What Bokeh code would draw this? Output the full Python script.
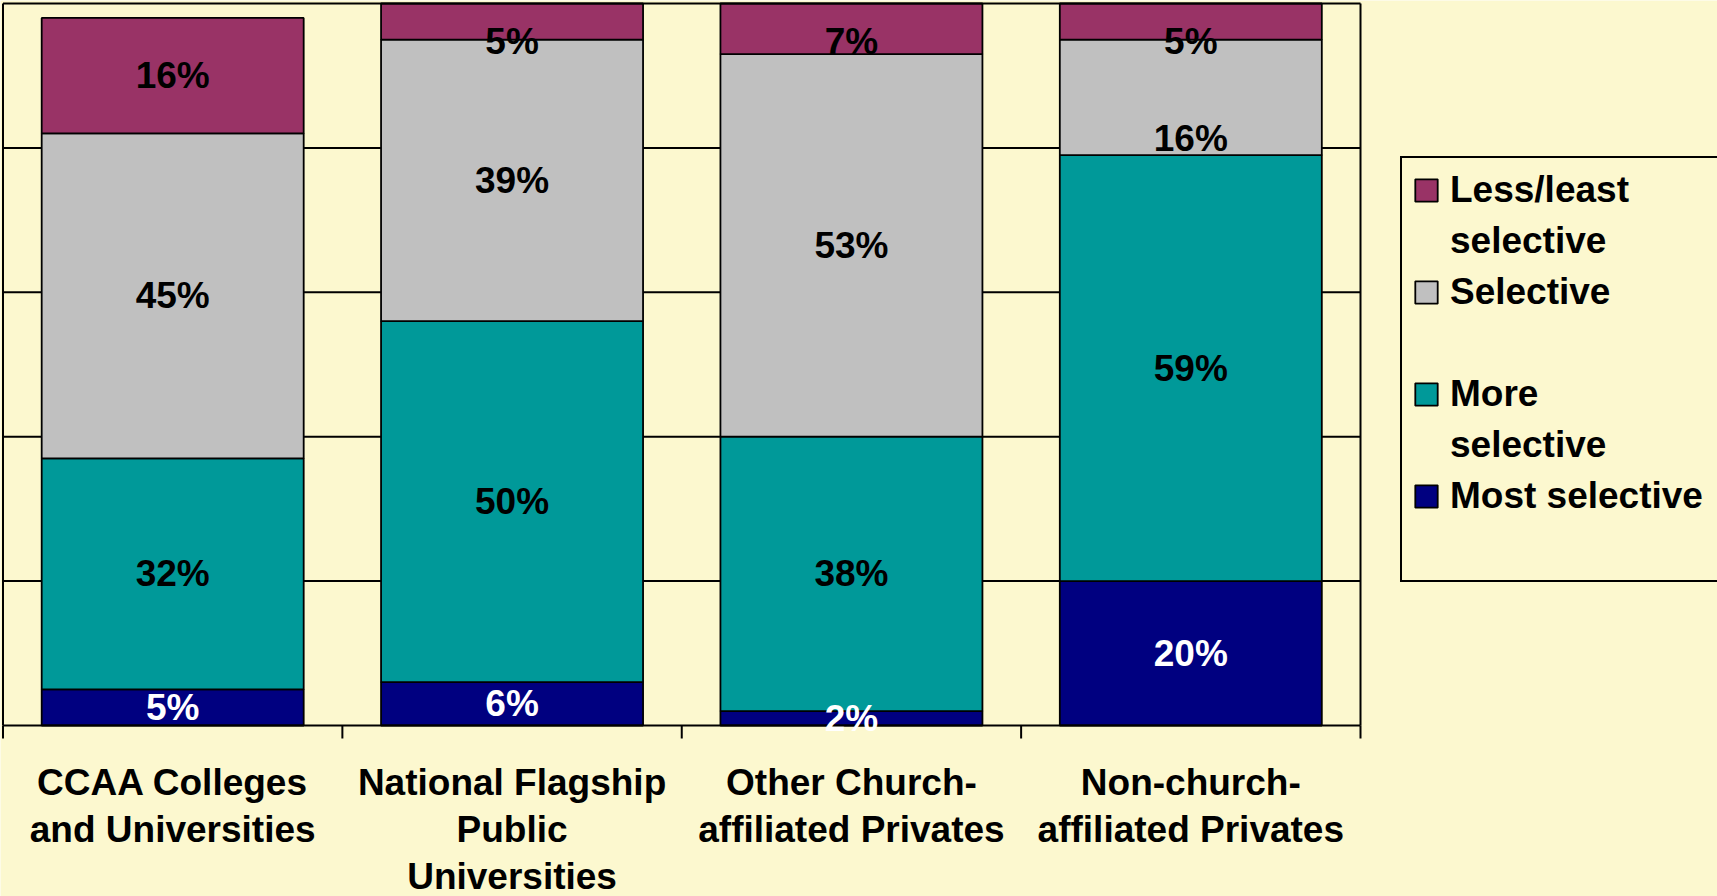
import numpy as np
from bokeh.plotting import figure
from bokeh.models import ColumnDataSource, Range1d, Legend, LegendItem
from bokeh.core.properties import value
from bokeh.embed import file_html
from bokeh.resources import INLINE

# ---------------- data ----------------
categories = ["CCAA Colleges and Universities",
              "National Flagship Public Universities",
              "Other Church-affiliated Privates",
              "Non-church-affiliated Privates"]
category_labels = ["CCAA Colleges\nand Universities",
                   "National Flagship\nPublic\nUniversities",
                   "Other Church-\naffiliated Privates",
                   "Non-church-\naffiliated Privates"]
series_names = ["Most selective", "More selective", "Selective", "Less/least selective"]
most_selective = [5, 6, 2, 20]
more_selective = [32, 50, 38, 59]
selective = [45, 39, 53, 16]
less_least_selective = [16, 5, 7, 5]
series_colors = ["#000080", "#009999", "#C0C0C0", "#993366"]
label_colors = ["white", "black", "black", "black"]
legend_lines = [["Most selective"], ["More", "selective"], ["Selective", " "], ["Less/least", "selective"]]
legend_order = [3, 2, 1, 0]
y_ticks = [0, 20, 40, 60, 80, 100]

# ---------------- layout / styling ----------------
BG = "#FCF8CF"
FONT = "Liberation Sans"
FS = "37px"
W, H = 1717, 896
PX_X0, PX_X1 = 2.5, 1360      # screen x of category axis start / end
PX_Y100, PX_Y0 = 3, 725       # screen y of 100% / 0%
TICK_PX = 13                  # category separator tick length
CAT_FIRST_PX, CAT_PITCH_PX = 57, 47   # category label lines below axis
TOP_PAD = 5.3                 # value-label clamp below top (data units)
MIN_GAP = 13.4                # min distance between labels of one bar
LW = 2

values = [most_selective, more_selective, selective, less_least_selective]
n = len(categories)
xs = [i + 0.5 for i in range(n)]
sx = (PX_X1 - PX_X0) / n
sy = (PX_Y0 - PX_Y100) / (y_ticks[-1] - y_ticks[0])

p = figure(width=W, height=H, output_backend="svg", toolbar_location=None,
           x_range=Range1d(-PX_X0 / sx, (W - PX_X0) / sx),
           y_range=Range1d(-(H - PX_Y0) / sy, y_ticks[-1] + PX_Y100 / sy),
           x_axis_location=None, y_axis_location=None, min_border=0)
p.background_fill_color = BG
p.border_fill_color = BG
p.outline_line_color = None
p.grid.visible = False

# gridlines (value axis, no labels)
grid_y = y_ticks[1:-1]
p.segment(x0=[0] * len(grid_y), x1=[n] * len(grid_y), y0=grid_y, y1=grid_y,
          line_color="black", line_width=LW)

# ---------------- stacked bars ----------------
bottom = np.zeros(n)
renderers = []
for vals, color in zip(values, series_colors):
    top = bottom + np.array(vals, dtype=float)
    src = ColumnDataSource(dict(x=xs, bottom=bottom, top=top))
    r = p.vbar(x="x", bottom="bottom", top="top", width=0.772, source=src,
               fill_color=color, line_color="black", line_width=1.8)
    renderers.append(r)
    bottom = top

# plot-area border, category axis line and separator ticks
tick_len = TICK_PX / sy
p.segment(x0=[0, n, 0], x1=[0, n, n], y0=[y_ticks[0], y_ticks[0], y_ticks[-1]],
          y1=[y_ticks[-1], y_ticks[-1], y_ticks[-1]], line_color="black", line_width=LW)
sep = list(range(n + 1))
p.segment(x0=sep, x1=sep, y0=[y_ticks[0]] * len(sep), y1=[y_ticks[0] - tick_len] * len(sep),
          line_color="black", line_width=LW)
p.segment(x0=[0], x1=[n], y0=[y_ticks[0]], y1=[y_ticks[0]], line_color="black", line_width=LW)

# category labels
cx, cy, ct = [], [], []
for x, lab in zip(xs, category_labels):
    for i, line in enumerate(lab.split("\n")):
        cx.append(x)
        cy.append(y_ticks[0] - (CAT_FIRST_PX + i * CAT_PITCH_PX) / sy)
        ct.append(line)
p.text(x=cx, y=cy, text=ct, text_color="black",
       text_font=value(FONT), text_font_style="bold", text_font_size=FS,
       text_align="center", text_baseline="middle")

# ---------------- value labels ----------------
lx, ly, lt, lc = [], [], [], []
for j in range(n):
    b = 0.0
    centers = []
    for vals in values:
        centers.append(b + vals[j] / 2.0)
        b += vals[j]
    limit = y_ticks[-1] - TOP_PAD
    for k in reversed(range(len(values))):
        c = min(centers[k], limit)
        centers[k] = c
        limit = c - MIN_GAP
    for k, vals in enumerate(values):
        lx.append(xs[j])
        ly.append(centers[k])
        lt.append(f"{vals[j]}%")
        lc.append(label_colors[k])
lab_src = ColumnDataSource(dict(x=lx, y=ly, text=lt, color=lc))
p.text(x="x", y="y", text="text", text_color="color", source=lab_src,
       text_font=value(FONT), text_font_style="bold", text_font_size=FS,
       text_align="center", text_baseline="middle")

# ---------------- legend ----------------
blank = p.vbar(x=[0], top=[0], width=0, fill_alpha=0, line_alpha=0)
items = []
for k in legend_order:
    lines = legend_lines[k]
    items.append(LegendItem(label=lines[0], renderers=[renderers[k]]))
    for extra in lines[1:]:
        items.append(LegendItem(label=extra, renderers=[blank]))
items.append(LegendItem(label=" ", renderers=[blank]))

legend = Legend(items=items, location=(1400, 314.5), orientation="vertical",
                padding=10, spacing=6, margin=0,
                glyph_width=28, glyph_height=28, label_height=45, label_width=380,
                label_standoff=10,
                label_text_font=FONT, label_text_font_style="bold",
                label_text_font_size=FS, label_text_color="black",
                background_fill_color=BG, background_fill_alpha=1.0,
                border_line_color="black", border_line_width=2, border_line_alpha=1.0)
p.add_layout(legend, "center")

open("out.html", "w").write(file_html(p, INLINE))
